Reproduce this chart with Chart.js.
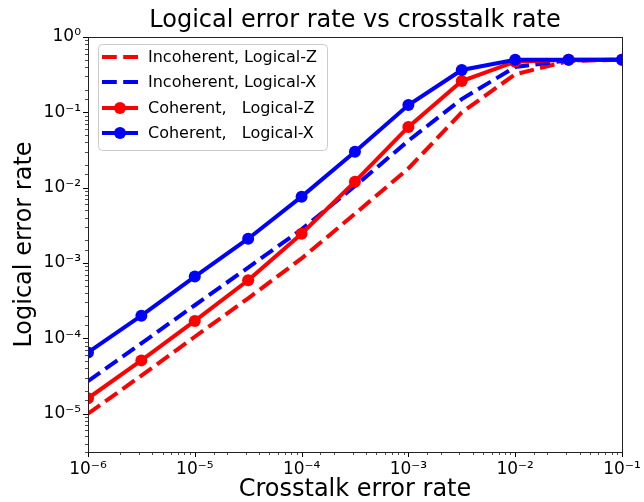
<!DOCTYPE html>
<html lang="en">

<head>
    <meta charset="UTF-8">
    <title>Logical error rate vs crosstalk rate</title>
    <script src="https://cdn.jsdelivr.net/npm/chart.js"></script>
    <style>
        html, body { margin: 0; padding: 0; background: #fff; }
    </style>
</head>

<body>
    <canvas id="errChart" width="644" height="502"></canvas>

    <script>
        // crosstalk error rate (x)
        const crosstalk = [1e-6, 3.16e-6, 1e-5, 3.16e-5, 1e-4, 3.16e-4, 1e-3, 3.16e-3, 1e-2, 3.16e-2, 1e-1];

        // logical error rates
        const incoherentZ = [1.0e-5, 3.2e-5, 1.05e-4, 3.4e-4, 1.15e-3, 4.5e-3, 1.8e-2, 0.10, 0.32, 0.48, 0.5];
        const incoherentX = [2.7e-5, 8.6e-5, 2.75e-4, 8.7e-4, 2.8e-3, 1.05e-2, 4.2e-2, 0.15, 0.40, 0.49, 0.5];
        const coherentZ = [1.6e-5, 5.1e-5, 1.7e-4, 5.9e-4, 2.45e-3, 1.2e-2, 6.4e-2, 0.26, 0.47, 0.5, 0.5];
        const coherentX = [6.5e-5, 2.0e-4, 6.6e-4, 2.1e-3, 7.6e-3, 3.0e-2, 0.125, 0.365, 0.5, 0.5, 0.5];

        const seriesLabels = ['Incoherent, Logical-Z', 'Incoherent, Logical-X', 'Coherent,   Logical-Z', 'Coherent,   Logical-X'];

        const FONT = "'DejaVu Sans', sans-serif";
        const SUP = { '-': '\u207B', '0': '\u2070', '1': '\u00B9', '2': '\u00B2', '3': '\u00B3', '4': '\u2074', '5': '\u2075', '6': '\u2076', '7': '\u2077', '8': '\u2078', '9': '\u2079' };

        function isDecade(v) {
            const e = Math.log10(v);
            return Math.abs(e - Math.round(e)) < 1e-6;
        }

        function decadeLabel(v) {
            if (!isDecade(v)) return '';
            const e = String(Math.round(Math.log10(v)));
            return '10' + e.split('').map(c => SUP[c]).join('');
        }

        function toPoints(ys) {
            return crosstalk.map((x, i) => ({ x: x, y: ys[i] }));
        }

        // frame, tick marks, title and legend (matplotlib look)
        const decorPlugin = {
            id: 'decor',
            afterDraw(chart) {
                const ctx = chart.ctx;
                const a = chart.chartArea;
                ctx.save();

                // tick marks
                ctx.strokeStyle = '#000';
                const xs = chart.scales.x, ys = chart.scales.y;
                xs.ticks.forEach(t => {
                    const px = Math.round(xs.getPixelForValue(t.value)) + 0.5;
                    const major = isDecade(t.value);
                    ctx.lineWidth = major ? 1 : 0.7;
                    ctx.beginPath();
                    ctx.moveTo(px, a.bottom);
                    ctx.lineTo(px, a.bottom + (major ? 5 : 3));
                    ctx.stroke();
                });
                ys.ticks.forEach(t => {
                    const py = Math.round(ys.getPixelForValue(t.value)) + 0.5;
                    const major = isDecade(t.value);
                    ctx.lineWidth = major ? 1 : 0.7;
                    ctx.beginPath();
                    ctx.moveTo(a.left, py);
                    ctx.lineTo(a.left - (major ? 5 : 3), py);
                    ctx.stroke();
                });

                // frame
                ctx.lineWidth = 1;
                ctx.strokeStyle = '#222';
                ctx.strokeRect(Math.round(a.left) + 0.5, Math.round(a.top) + 0.5,
                    Math.round(a.right - a.left), Math.round(a.bottom - a.top));

                // title
                ctx.fillStyle = '#000';
                ctx.font = '24px ' + FONT;
                ctx.textAlign = 'center';
                ctx.textBaseline = 'middle';
                ctx.fillText('Logical error rate vs crosstalk rate', (a.left + a.right) / 2, 21);

                // legend
                const lx = 98, ly = 44, lw = 229, lh = 106;
                ctx.fillStyle = 'rgba(255,255,255,0.85)';
                ctx.strokeStyle = '#cccccc';
                ctx.beginPath();
                ctx.roundRect(lx + 0.5, ly + 0.5, lw, lh, 4);
                ctx.fill();
                ctx.stroke();

                ctx.font = '16px ' + FONT;
                ctx.textAlign = 'left';
                const rowY = [57, 82, 108, 133];
                chart.data.datasets.forEach((ds, i) => {
                    const y = rowY[i];
                    ctx.strokeStyle = ds.borderColor;
                    ctx.lineWidth = ds.borderWidth;
                    ctx.setLineDash(ds.borderDash || []);
                    ctx.beginPath();
                    ctx.moveTo(102, y);
                    ctx.lineTo(138, y);
                    ctx.stroke();
                    ctx.setLineDash([]);
                    if (ds.pointRadius > 0) {
                        ctx.fillStyle = ds.borderColor;
                        ctx.beginPath();
                        ctx.arc(120, y, ds.pointRadius, 0, Math.PI * 2);
                        ctx.fill();
                    }
                    ctx.fillStyle = '#000';
                    ctx.fillText(ds.label, 148, y + 1);
                });

                ctx.restore();
            }
        };

        function series(label, ys, color, dashed, order) {
            return {
                label: label,
                data: toPoints(ys),
                borderColor: color,
                backgroundColor: color,
                borderWidth: 4,
                borderDash: dashed ? [14.8, 6.4] : [],
                pointRadius: dashed ? 0 : 6,
                pointBackgroundColor: color,
                pointBorderWidth: 0,
                pointHoverRadius: dashed ? 0 : 6,
                tension: 0,
                fill: false,
                clip: 0,
                order: order
            };
        }

        const ctx = document.getElementById('errChart').getContext('2d');

        const errChart = new Chart(ctx, {
            type: 'line',
            data: {
                datasets: [
                    series(seriesLabels[0], incoherentZ, '#ff0000', true, 4),
                    series(seriesLabels[1], incoherentX, '#0000ff', true, 3),
                    series(seriesLabels[2], coherentZ, '#ff0000', false, 2),
                    series(seriesLabels[3], coherentX, '#0000ff', false, 1)
                ]
            },
            options: {
                responsive: false,
                animation: false,
                layout: { padding: { top: 37, right: 22, left: 0, bottom: 0 } },
                plugins: {
                    legend: { display: false },
                    title: { display: false },
                    tooltip: { enabled: false }
                },
                scales: {
                    x: {
                        type: 'logarithmic',
                        min: 1e-6,
                        max: 1e-1,
                        afterFit(scale) { scale.height = 50; },
                        border: { display: false },
                        grid: { display: true, drawOnChartArea: false, drawTicks: true, tickLength: 5, color: 'rgba(0,0,0,0)' },
                        ticks: {
                            autoSkip: false,
                            maxRotation: 0,
                            padding: 2,
                            color: '#000',
                            font: { family: FONT, size: 17 },
                            callback: v => decadeLabel(v)
                        },
                        title: {
                            display: true,
                            text: 'Crosstalk error rate',
                            color: '#000',
                            font: { family: FONT, size: 24 },
                            padding: { top: 0, bottom: -2 }
                        }
                    },
                    y: {
                        type: 'logarithmic',
                        min: 3.1e-6,
                        max: 1,
                        afterFit(scale) { scale.width = 88; },
                        border: { display: false },
                        grid: { display: true, drawOnChartArea: false, drawTicks: true, tickLength: 5, color: 'rgba(0,0,0,0)' },
                        ticks: {
                            autoSkip: false,
                            padding: 2,
                            color: '#000',
                            font: { family: FONT, size: 17 },
                            callback: v => decadeLabel(v)
                        },
                        title: {
                            display: true,
                            text: 'Logical error rate',
                            color: '#000',
                            font: { family: FONT, size: 24 },
                            padding: { top: 10, bottom: 0 }
                        }
                    }
                }
            },
            plugins: [decorPlugin]
        });
    </script>
</body>

</html>
